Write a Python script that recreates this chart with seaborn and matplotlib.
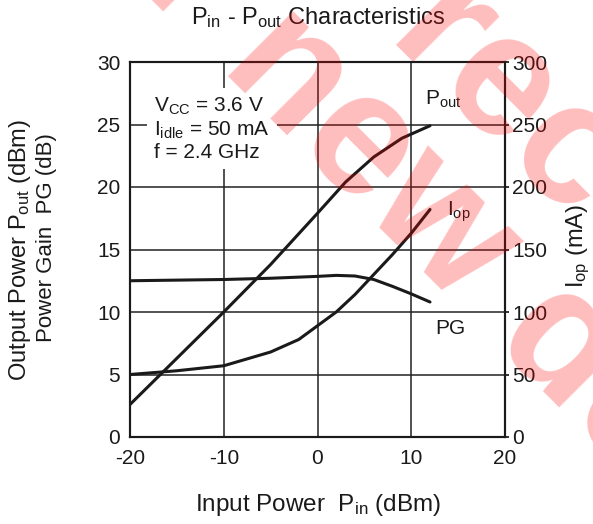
import numpy as np
import pandas as pd
import seaborn as sns
import matplotlib
matplotlib.use("Agg")
import matplotlib.pyplot as plt

# valori
pin_pout = [-20, -15, -10, -5, 0, 3, 6, 9, 12]
pout = [2.6, 6.3, 10.0, 13.8, 17.9, 20.4, 22.4, 23.9, 24.9]

pin_pg = [-20, -15, -10, -5, 0, 2, 4, 6, 8, 10, 12]
pg = [12.5, 12.55, 12.6, 12.7, 12.85, 12.93, 12.88, 12.6, 12.05, 11.45, 10.8]

pin_iop = [-20, -15, -10, -5, -2, 0, 2, 4, 6, 8, 10, 12]
iop = [50, 53, 57, 68, 78, 89, 100, 114, 130, 146, 163, 182]

x_ticks = [-20, -10, 0, 10, 20]
y_ticks = [0, 5, 10, 15, 20, 25, 30]
y2_ticks = [0, 50, 100, 150, 200, 250, 300]

sns.set_theme(style="white")
plt.rcParams['font.family'] = ['Liberation Sans', 'DejaVu Sans']
plt.rcParams['mathtext.fontset'] = 'custom'
plt.rcParams['mathtext.rm'] = 'Liberation Sans'
plt.rcParams['mathtext.it'] = 'Liberation Sans'
plt.rcParams['mathtext.default'] = 'regular'

fig = plt.figure(figsize=(5.93, 5.24), dpi=100)
ax = fig.add_axes([130/593, 87/524, 375/593, 375/524])

df_pout = pd.DataFrame({'pin': pin_pout, 'val': pout})
df_pg = pd.DataFrame({'pin': pin_pg, 'val': pg})
df_iop = pd.DataFrame({'pin': pin_iop, 'val': iop})

sns.lineplot(data=df_pout, x='pin', y='val', ax=ax, color='#1a1a1a', lw=2.2, zorder=3)
sns.lineplot(data=df_pg, x='pin', y='val', ax=ax, color='#1a1a1a', lw=2.2, zorder=3)

ax2 = ax.twinx()
sns.lineplot(data=df_iop, x='pin', y='val', ax=ax2, color='#1a1a1a', lw=2.2, zorder=3)

ax.set_xlim(-20, 20)
ax.set_ylim(0, 30)
ax2.set_ylim(0, 300)
ax.set_xticks(x_ticks)
ax.set_yticks(y_ticks)
ax2.set_yticks(y2_ticks)
ax.set_xticklabels([str(t) for t in x_ticks])
ax.grid(True, color='#222222', lw=1.1)
ax.set_axisbelow(True)
ax.set_xlabel('')
ax.set_ylabel('')
ax2.set_ylabel('')

for a in (ax, ax2):
    for s in a.spines.values():
        s.set_color('#1a1a1a')
        s.set_linewidth(1.5)
ax.tick_params(axis='both', length=0, labelsize=15, colors='#1a1a1a', pad=7)
ax.tick_params(axis='x', pad=9)
ax2.tick_params(axis='y', length=3, direction='out', labelsize=15, colors='#1a1a1a', pad=2)

# riquadro con le condizioni di misura
ax.text(-17.4, 27.3, "V$_{CC}$ = 3.6 V\nI$_{idle}$ = 50 mA\nf = 2.4 GHz",
        fontsize=15, color='#1a1a1a', va='top', ha='left', linespacing=1.15,
        bbox=dict(facecolor='white', edgecolor='none', pad=5), zorder=4)

ax.text(11.5, 27.0, "P$_{out}$", fontsize=15, color='#1a1a1a', va='center', zorder=4)
ax.text(13.8, 18.0, "I$_{op}$", fontsize=15, color='#1a1a1a', va='center', zorder=4)
ax.text(12.6, 8.7, "PG", fontsize=15, color='#1a1a1a', va='center', zorder=4)

fig.text(318/593, 1 - 18/524, "P$_{in}$ - P$_{out}$ Characteristics",
         fontsize=17, ha='center', va='center', color='#1a1a1a')
fig.text(318/593, 1 - 505/524, "Input Power  P$_{in}$ (dBm)",
         fontsize=17.5, ha='center', va='center', color='#1a1a1a')
fig.text(20/593, 1 - 250/524, "Output Power P$_{out}$ (dBm)",
         fontsize=17, ha='center', va='center', rotation=90, color='#1a1a1a')
fig.text(47/593, 1 - 238/524, "Power Gain  PG (dB)",
         fontsize=16, ha='center', va='center', rotation=90, color='#1a1a1a')
fig.text(578/593, 1 - 246/524, "I$_{op}$ (mA)",
         fontsize=17, ha='center', va='center', rotation=90, color='#1a1a1a')

# filigrana
fig.text(0.2496, 1.387, "Not recommended", fontsize=125, fontweight='bold',
         color='red', alpha=0.26, rotation=-45, rotation_mode='anchor',
         ha='left', va='baseline', zorder=10)
fig.text(0.035, 1.248, "for new design", fontsize=125, fontweight='bold',
         color='red', alpha=0.26, rotation=-45, rotation_mode='anchor',
         ha='left', va='baseline', zorder=10)

fig.savefig("out.png", dpi=100)
